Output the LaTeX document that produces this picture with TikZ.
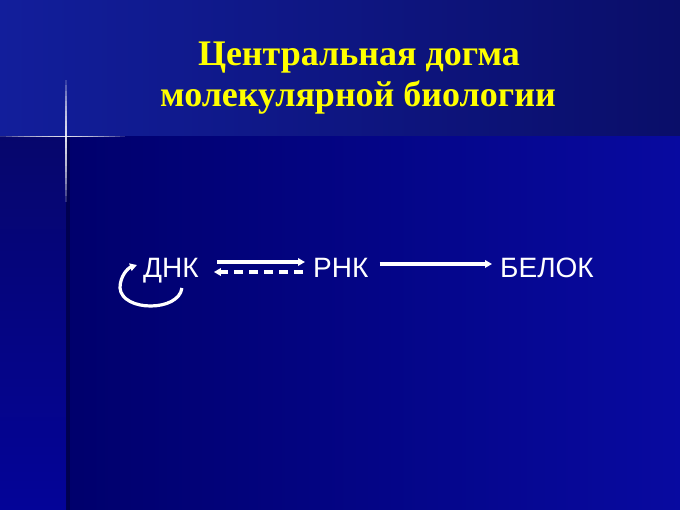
\documentclass[tikz,border=0pt]{standalone}
\usepackage{fontspec}
\setmainfont{Liberation Serif}
\newfontfamily\arialfont{Liberation Sans}
\usetikzlibrary{arrows.meta,calc}

\definecolor{titleyellow}{RGB}{255,255,0}
\tikzset{
  heading/.style={anchor=base,inner sep=0pt,text=titleyellow,font=\bfseries\fontsize{36}{39}\selectfont},
  molecule/.style={anchor=base west,inner sep=0pt,text=white,font=\arialfont\fontsize{28}{32}\selectfont},
  flow/.style={draw=white,line width=3.2pt,-{Triangle[length=7pt,width=7.5pt]}},
  backflow/.style={flow,dash pattern=on 9pt off 6pt},
}

\begin{document}
\begin{tikzpicture}[x=1pt,y=1pt,yscale=-1,xscale=1]
\useasboundingbox (0,0) rectangle (680,510);
% background
\shade [left color={rgb,255:red,0;green,0;blue,108}, right color={rgb,255:red,8;green,10;blue,160}] (66,136) rectangle (680,510);
\shade [top color={rgb,255:red,6;green,6;blue,108}, bottom color={rgb,255:red,4;green,4;blue,152}] (0,136) rectangle (66,510);
\shade [left color={rgb,255:red,18;green,30;blue,155}, right color={rgb,255:red,10;green,14;blue,105}] (0,0) rectangle (680,136);
\fill [black,opacity=0.25] (66,136) rectangle (70,510);
% sparkle
\foreach \l in {6,12,...,66} {
  \draw [white,opacity=0.17,line width=1.5pt] (66-\l,136.5) -- (66+\l*0.9,136.5);
  \draw [white,opacity=0.17,line width=1.5pt] (66,136.5-\l*0.85) -- (66,136.5+\l);
}
% title
\node (titletop) at (359,66) [heading] {Центральная догма};
\node (titlebottom) at (358,107) [heading] {молекулярной биологии};
% molecules
\node (dnk) at (143,278) [molecule] {ДНК};
\node (rnk) at (313,278) [molecule] {РНК};
\node (belok) at (500,278) [molecule] {БЕЛОК};
% arrows
\draw [flow] ($(dnk.base east)+(18,-16)$) -- ($(rnk.base west)+(-8,-16)$);
\draw [backflow] ($(rnk.base west)+(-10,-6)$) -- ($(dnk.base east)+(15,-6)$);
\draw [flow] ($(rnk.base east)+(11,-14)$) -- ($(belok.base west)+(-8,-14)$);
\draw [flow] ($(dnk.base east)+(-17,10)$) .. controls +(-3,24) and +(2,24) .. (120,288) .. controls (120,276) and (128,268) .. ($(dnk.base west)+(-6,-13)$);
\end{tikzpicture}
\end{document}
